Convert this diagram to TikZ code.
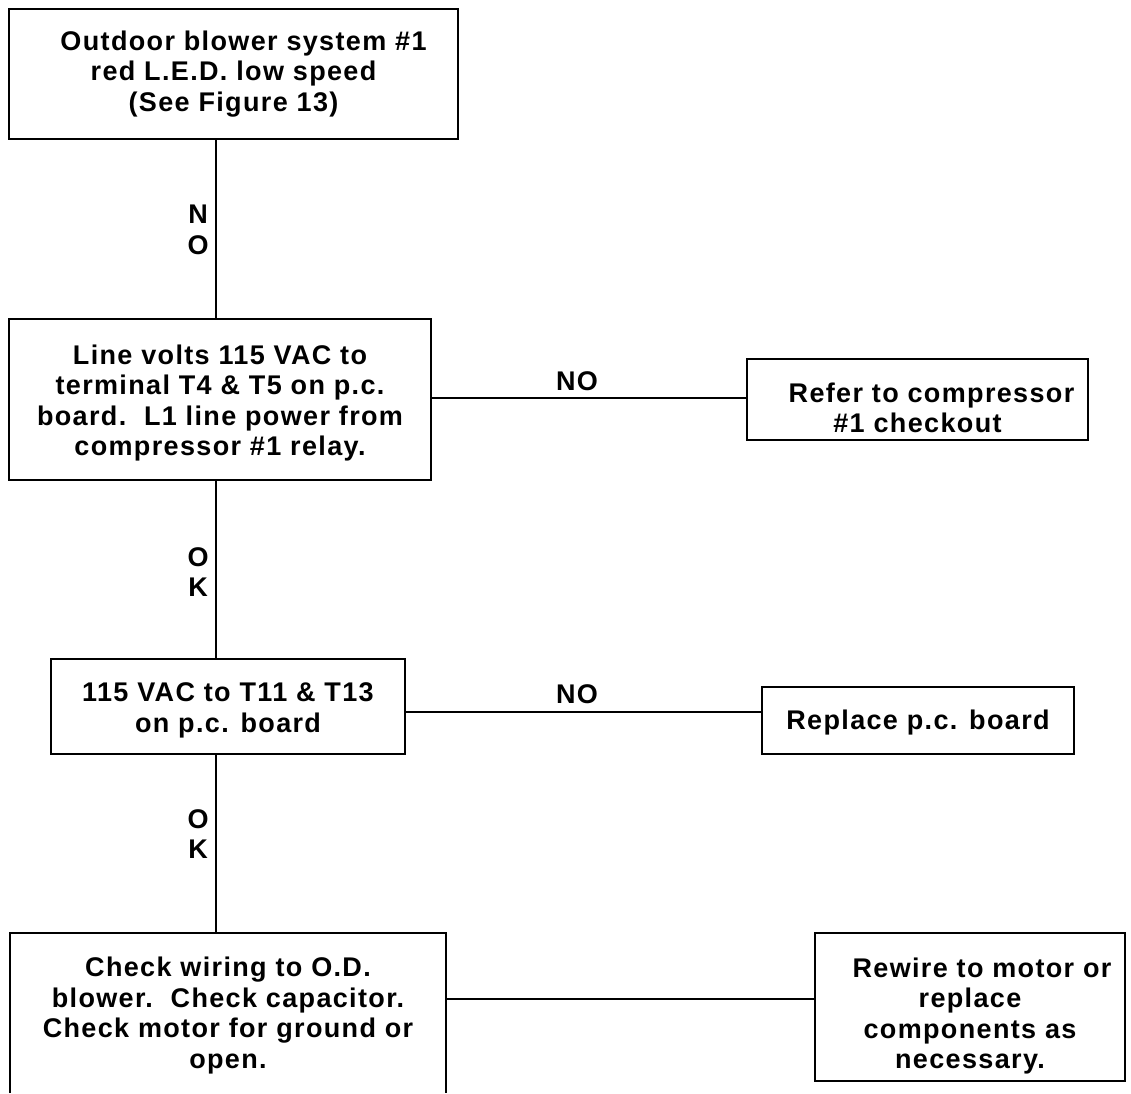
\documentclass[tikz,border=0pt]{standalone}
\usepackage{fontspec}
\setmainfont{Liberation Sans}[LetterSpace=5]
\newcommand{\dropby}[1]{\rule{0pt}{\dimexpr 20pt+2\dimexpr #1\relax\relax}}
\begin{document}
\begin{tikzpicture}[x=1pt,y=-1pt,
  every node/.style={font=\fontsize{27}{30.5}\selectfont\bfseries, inner sep=0pt},
  box/.style={draw, line width=1.6pt, align=center},
  lbl/.style={align=center},
  conn/.style={line width=1.6pt}]
\useasboundingbox (0,0) rectangle (1131,1093);
\coordinate (sp) at (216,0);
\coordinate (hA) at (0,398);
\coordinate (hB) at (0,712);
\coordinate (hC) at (0,999);
\node[box, minimum width=449pt, minimum height=130pt] (b1) at (233.5,74)
  {\hspace*{20pt}Outdoor blower system \#1\\red L.E.D. low speed\\(See Figure 13)};
\node[box, minimum width=422pt, minimum height=161pt] (b2) at (220,399.5)
  {\dropby{3.5pt}Line volts 115 VAC to\\terminal T4 \& T5 on p.c.\\board.\ \ L1 line power from\\compressor \#1 relay.};
\node[box, minimum width=341pt, minimum height=81pt] (b3) at (917.5,399.5)
  {\dropby{8pt}\hspace*{28pt}Refer to compressor\\\#1 checkout};
\node[box, minimum width=354pt, minimum height=95pt] (b4) at (228,706.5)
  {\dropby{3.5pt}115 VAC to T11 \& T13\\on p.c. board};
\node[box, minimum width=312pt, minimum height=67pt] (b5) at (918,720.5)
  {\dropby{2pt}Replace p.c. board};
\node[align=center, minimum width=436pt, minimum height=160pt] (b6) at (228,1013)
  {\dropby{2.5pt}Check wiring to O.D.\\blower.\ \ Check capacitor.\\Check motor for ground or\\open.};
\draw[conn] (b6.south west) -- (b6.north west) -- (b6.north east) -- (b6.south east);
\node[box, minimum width=310pt, minimum height=148pt] (b7) at (970,1007)
  {\dropby{9pt}\hspace*{24pt}Rewire to motor or\\replace\\components as\\necessary.};
\draw[conn] (b1.south -| sp) -- (b2.north -| sp);
\draw[conn] (b2.south -| sp) -- (b4.north -| sp);
\draw[conn] (b4.south -| sp) -- (b6.north -| sp);
\draw[conn] (b2.east |- hA) -- (b3.west |- hA);
\draw[conn] (b4.east |- hB) -- (b5.west |- hB);
\draw[conn] (b6.east |- hC) -- (b7.west |- hC);
\node[lbl] (l1) at (198,230) {N\\O};
\node[lbl] (l2) at (198,572) {O\\K};
\node[lbl] (l3) at (198,834) {O\\K};
\node[lbl] (l4) at (577,381) {NO};
\node[lbl] (l5) at (577,694) {NO};
\end{tikzpicture}
\end{document}
